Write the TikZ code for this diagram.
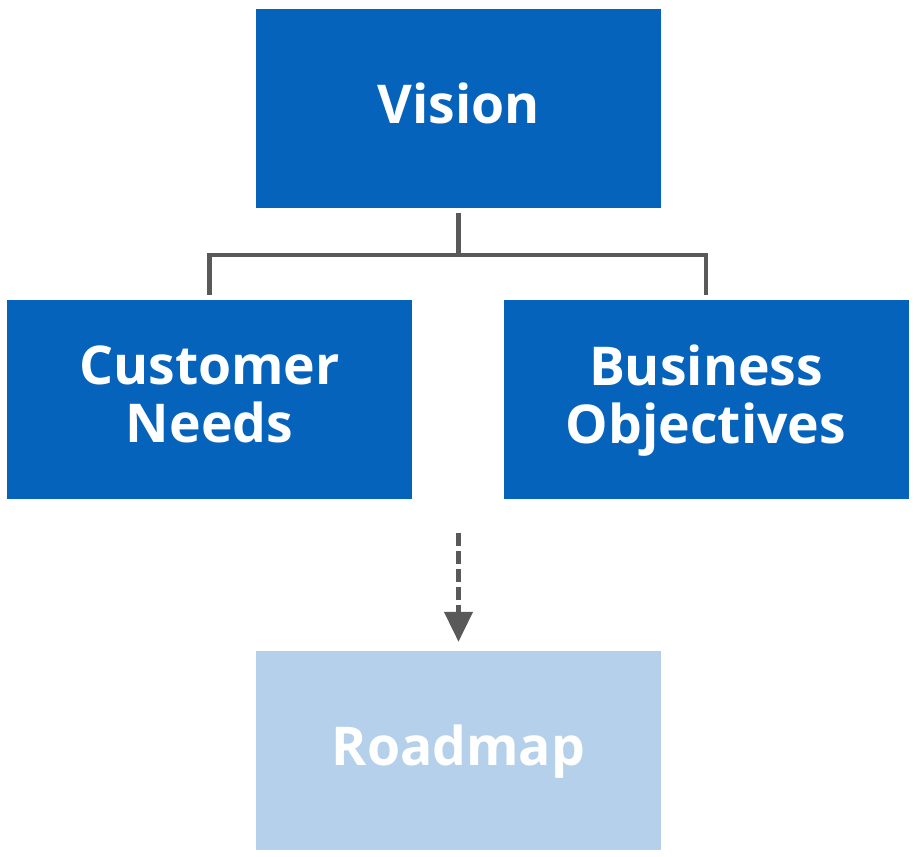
\documentclass[tikz,border=0pt]{standalone}
\usepackage{fontspec}
\setmainfont{Open Sans}
\usetikzlibrary{arrows.meta}

\definecolor{boxblue}{HTML}{0563BB}
\definecolor{paleblue}{HTML}{B4D0EA}
\definecolor{linegray}{HTML}{595959}

\tikzset{
  box/.style={fill=boxblue, text=white, minimum width=405pt, minimum height=199pt,
    align=center, inner sep=0pt, text depth=11pt,
    font=\fontsize{53.5}{58}\selectfont\bfseries},
  link/.style={draw=linegray, line width=4.5pt},
  flow/.style={draw=linegray, line width=4.5pt, dash pattern=on 13pt off 5pt,
    -{Triangle[length=30pt, width=28pt]}},
}

\begin{document}
\begin{tikzpicture}[x=1pt, y=-1pt]
  \useasboundingbox (0,0) rectangle (916,857);

  % boxes
  \node [box] (vision) at (458.5,108.5) {Vision};
  \node [box] (needs) at (209.5,399.5) {Customer\\Needs};
  \node [box] (goals) at (706,399.5) {Business\\Objectives};
  \node [box, fill=paleblue] (roadmap) at (458.5,750.5) {Roadmap};

  % bracket from vision down to both inputs
  \coordinate (split) at (458.5,255);
  \draw [link, shorten <=5pt] (vision.south) -- (split);
  \draw [link, shorten >=5pt] (split) -| (needs.north);
  \draw [link, shorten >=5pt] (split) -| (goals.north);

  % dashed arrow into roadmap
  \coordinate (flowstart) at (458.5,533);   % helper
  \draw [flow, shorten >=9pt] (flowstart) -- (roadmap.north);
\end{tikzpicture}
\end{document}
